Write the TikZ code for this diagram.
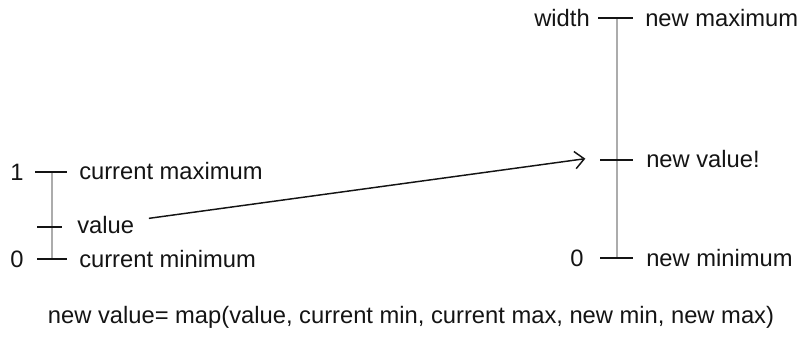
\documentclass[tikz,border=0pt]{standalone}
\usepackage{fontspec}
\setmainfont{Liberation Sans}
\usepackage{tikz}
\usetikzlibrary{positioning, arrows.meta}
\definecolor{ink}{RGB}{20,20,20}
\definecolor{rail}{RGB}{172,172,172}

\begin{document}
\begin{tikzpicture}[
  x=0.75pt, y=-0.75pt,
  tick/.style={draw=ink, line width=1.1pt},
  bar/.style={draw=rail, line width=1.4pt},
  lab/.style={font=\fontsize{17.8}{21}\selectfont, text=ink, inner sep=0pt},
  map/.style={->, >={Straight Barb[length=7pt, width=13pt]}, draw=ink, line width=1.1pt}]

  \useasboundingbox (0,0) rectangle (799,337);

  % current range
  \draw[bar] (52,172) -- (52,259);
  \draw[tick] (35,172) -- (67,172);
  \draw[tick] (37,227) -- (62,227);
  \draw[tick] (37,259) -- (67,259);
  \node[lab] (one) at (17,172) {1};
  \node[lab] (zero) at (17,259) {0};
  \node[lab, anchor=west] (cmax) at (79,171) {current maximum};
  \node[lab, anchor=west] (val) at (77,225) {value};
  \node[lab, anchor=west] (cmin) at (79,259) {current minimum};

  % new range
  \draw[bar] (617,18) -- (617,258);
  \draw[tick] (598,18) -- (633,18);
  \coordinate (nvt) at (600,160);
  \draw[tick] (nvt) -- (633,160);
  \draw[tick] (600,258) -- (633,258);
  \node[lab, anchor=east] (w) at (590,18) {width};
  \node[lab] (nzero) at (577,258) {0};
  \node[lab, anchor=west] (nmax) at (645,18) {new maximum};
  \node[lab, anchor=west] (nval) at (646,159) {new value!};
  \node[lab, anchor=west] (nmin) at (646,258) {new minimum};

  \draw[map] ([xshift=11pt, yshift=5pt]val.east) -- ([xshift=-11pt, yshift=1pt]nvt);

  \node[lab] (formula) at (411,317)
    {new value= map(value, current min, current max, new min, new max)};
\end{tikzpicture}
\end{document}
